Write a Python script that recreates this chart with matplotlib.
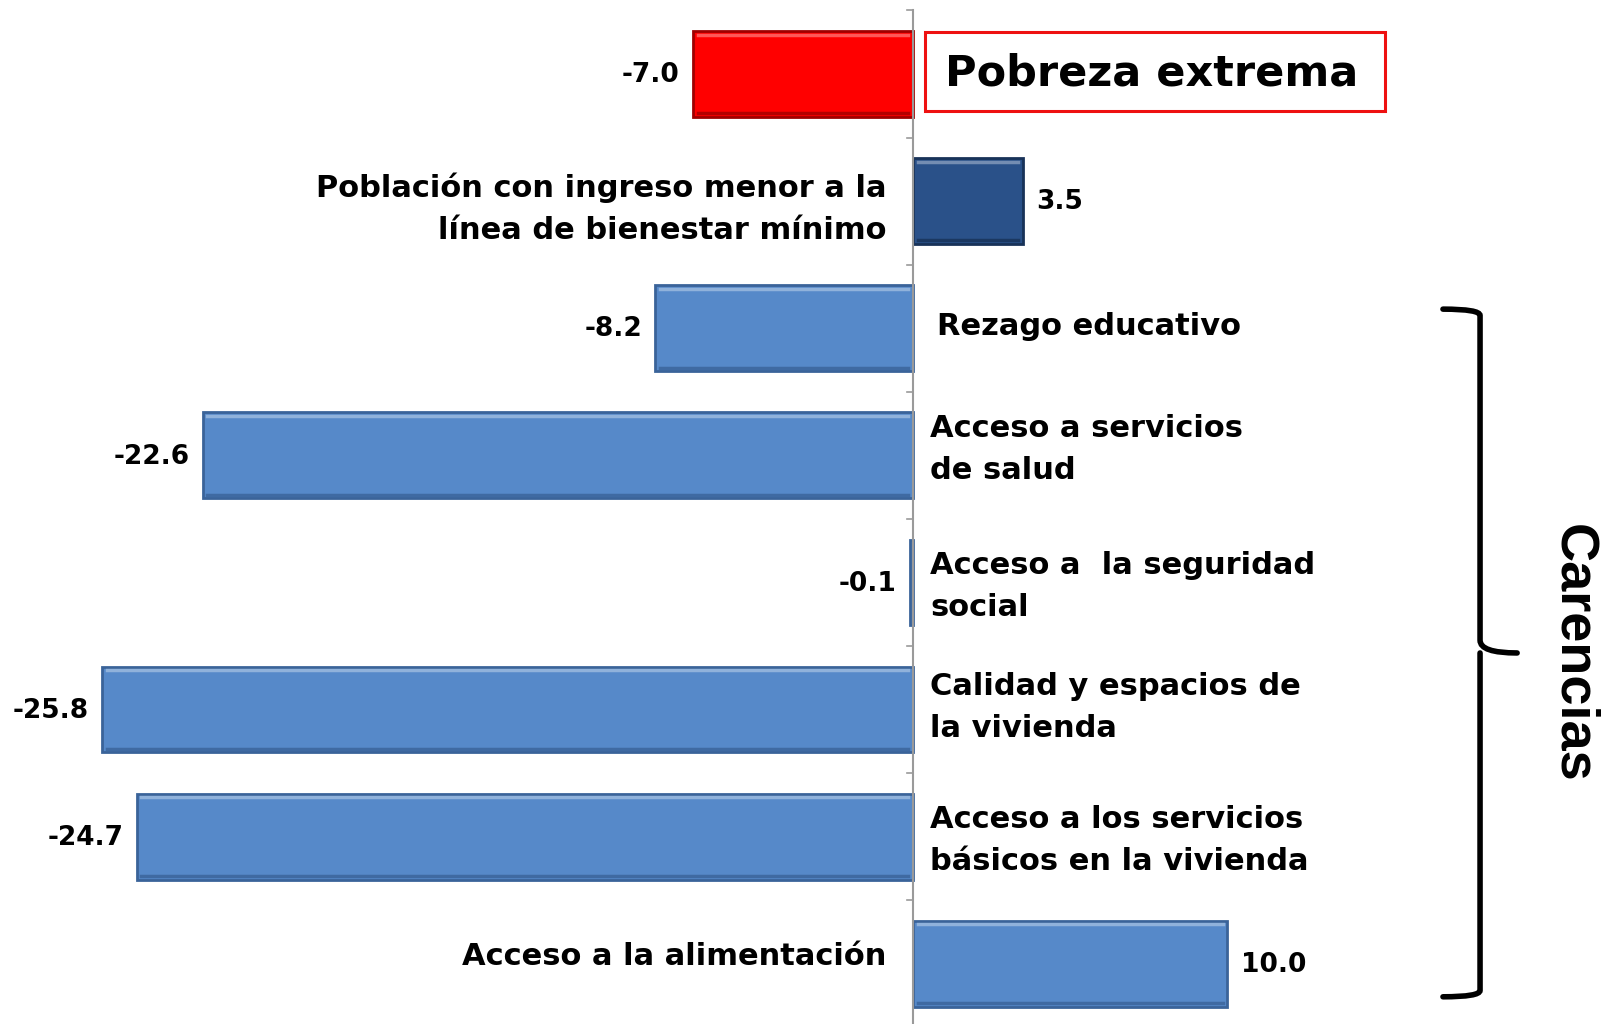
import numpy as np
import matplotlib.pyplot as plt
from matplotlib.path import Path
from matplotlib.patches import PathPatch, Rectangle

categories = ['Pobreza extrema',
              'Población con ingreso menor a la\nlínea de bienestar mínimo',
              'Rezago educativo',
              'Acceso a servicios\nde salud',
              'Acceso a  la seguridad\nsocial',
              'Calidad y espacios de\nla vivienda',
              'Acceso a los servicios\nbásicos en la vivienda',
              'Acceso a la alimentación']
values = [-7.0, 3.5, -8.2, -22.6, -0.1, -25.8, -24.7, 10.0]
bar_colors = ['#ff0000', '#2a5189', '#5689c9', '#5689c9', '#5689c9', '#5689c9', '#5689c9', '#5689c9']
edge_colors = ['#a00000', '#183258', '#3a6399', '#3a6399', '#3a6399', '#3a6399', '#3a6399', '#3a6399']
# small vertical nudges of the category labels
label_dy = [0, 0.06, -0.01, -0.045, 0.035, -0.015, 0.03, -0.055]

plt.rcParams['font.family'] = ['DejaVu Sans']

fig = plt.figure(figsize=(16.02, 10.24), dpi=100)
ax = fig.add_axes([0, 0, 1, 1])
ax.set_xlim(-29.05, 21.92)
ax.set_ylim(7.474, -0.582)

y = np.arange(len(values))
ax.barh(y, values, height=0.675, color=bar_colors, edgecolor=edge_colors, linewidth=2, zorder=2)
# bevel look: light top strip, dark bottom strip
for yi, v, ec in zip(y, values, edge_colors):
    if abs(v) < 0.5:
        continue
    ax.plot([min(0, v) + 0.15, max(0, v) - 0.15], [yi - 0.31, yi - 0.31],
            color='white', alpha=0.35, lw=2.5, zorder=3)
    ax.plot([min(0, v) + 0.15, max(0, v) - 0.15], [yi + 0.31, yi + 0.31],
            color=ec, alpha=0.8, lw=2.5, zorder=3)

ax.axis('off')
ax.axvline(0, ymin=0, ymax=(7.474 + 0.5) / (7.474 + 0.582), color='#9a9a9a', lw=1.5, zorder=4)
for b in np.arange(-0.5, 7.6, 1.0):
    ax.plot([-0.18, 0], [b, b], color='#9a9a9a', lw=1.2, zorder=4)

vfont = dict(fontsize=19, fontweight='bold', va='center')
lfont = dict(fontsize=22, fontweight='bold', va='center', linespacing=1.56)
for i, (v, lab) in enumerate(zip(values, categories)):
    if v < 0:
        ax.text(v - 0.42, i + 0.01, f'{v:.1f}', ha='right', **vfont)
    else:
        ax.text(v + 0.42, i + 0.01, f'{v:.1f}', ha='left', **vfont)
    if i == 0:
        continue
    if v < 0:
        dx = 0.76 if i == 2 else 0.54
        ax.text(dx, i + label_dy[i], lab, ha='left', **lfont)
    else:
        ax.text(-0.86, i + label_dy[i], lab, ha='right', **lfont)

# boxed title for first row
ax.add_patch(Rectangle((0.37, -0.33), 14.63, 0.62, fill=False, ec='#ee1111', lw=2.2, zorder=5))
ax.text(1.02, -0.005, categories[0], ha='left', va='center', fontsize=31, fontweight='bold')

# brace for the "Carencias" group
x0, x1, x2 = 16.86, 18.04, 19.22
top, bot = 1.85, 7.26
mid = (top + bot) / 2
verts = [(x0, top), (x1, top), (x1, top + 0.05),
         (x1, mid - 0.1), (x1, mid), (x2, mid),
         (x1, mid), (x1, mid + 0.1),
         (x1, bot - 0.05), (x1, bot), (x0, bot)]
codes = [Path.MOVETO, Path.CURVE3, Path.CURVE3,
         Path.LINETO, Path.CURVE3, Path.CURVE3,
         Path.MOVETO, Path.LINETO,
         Path.LINETO, Path.CURVE3, Path.CURVE3]
ax.add_patch(PathPatch(Path(verts, codes), fill=False, lw=4, ec='black', capstyle='round'))

ax.text(21.0, mid, 'Carencias', rotation=-90, ha='center', va='center',
        fontsize=39, fontweight='bold', family=['Liberation Sans', 'DejaVu Sans'])

fig.savefig('out.png', dpi=100)
